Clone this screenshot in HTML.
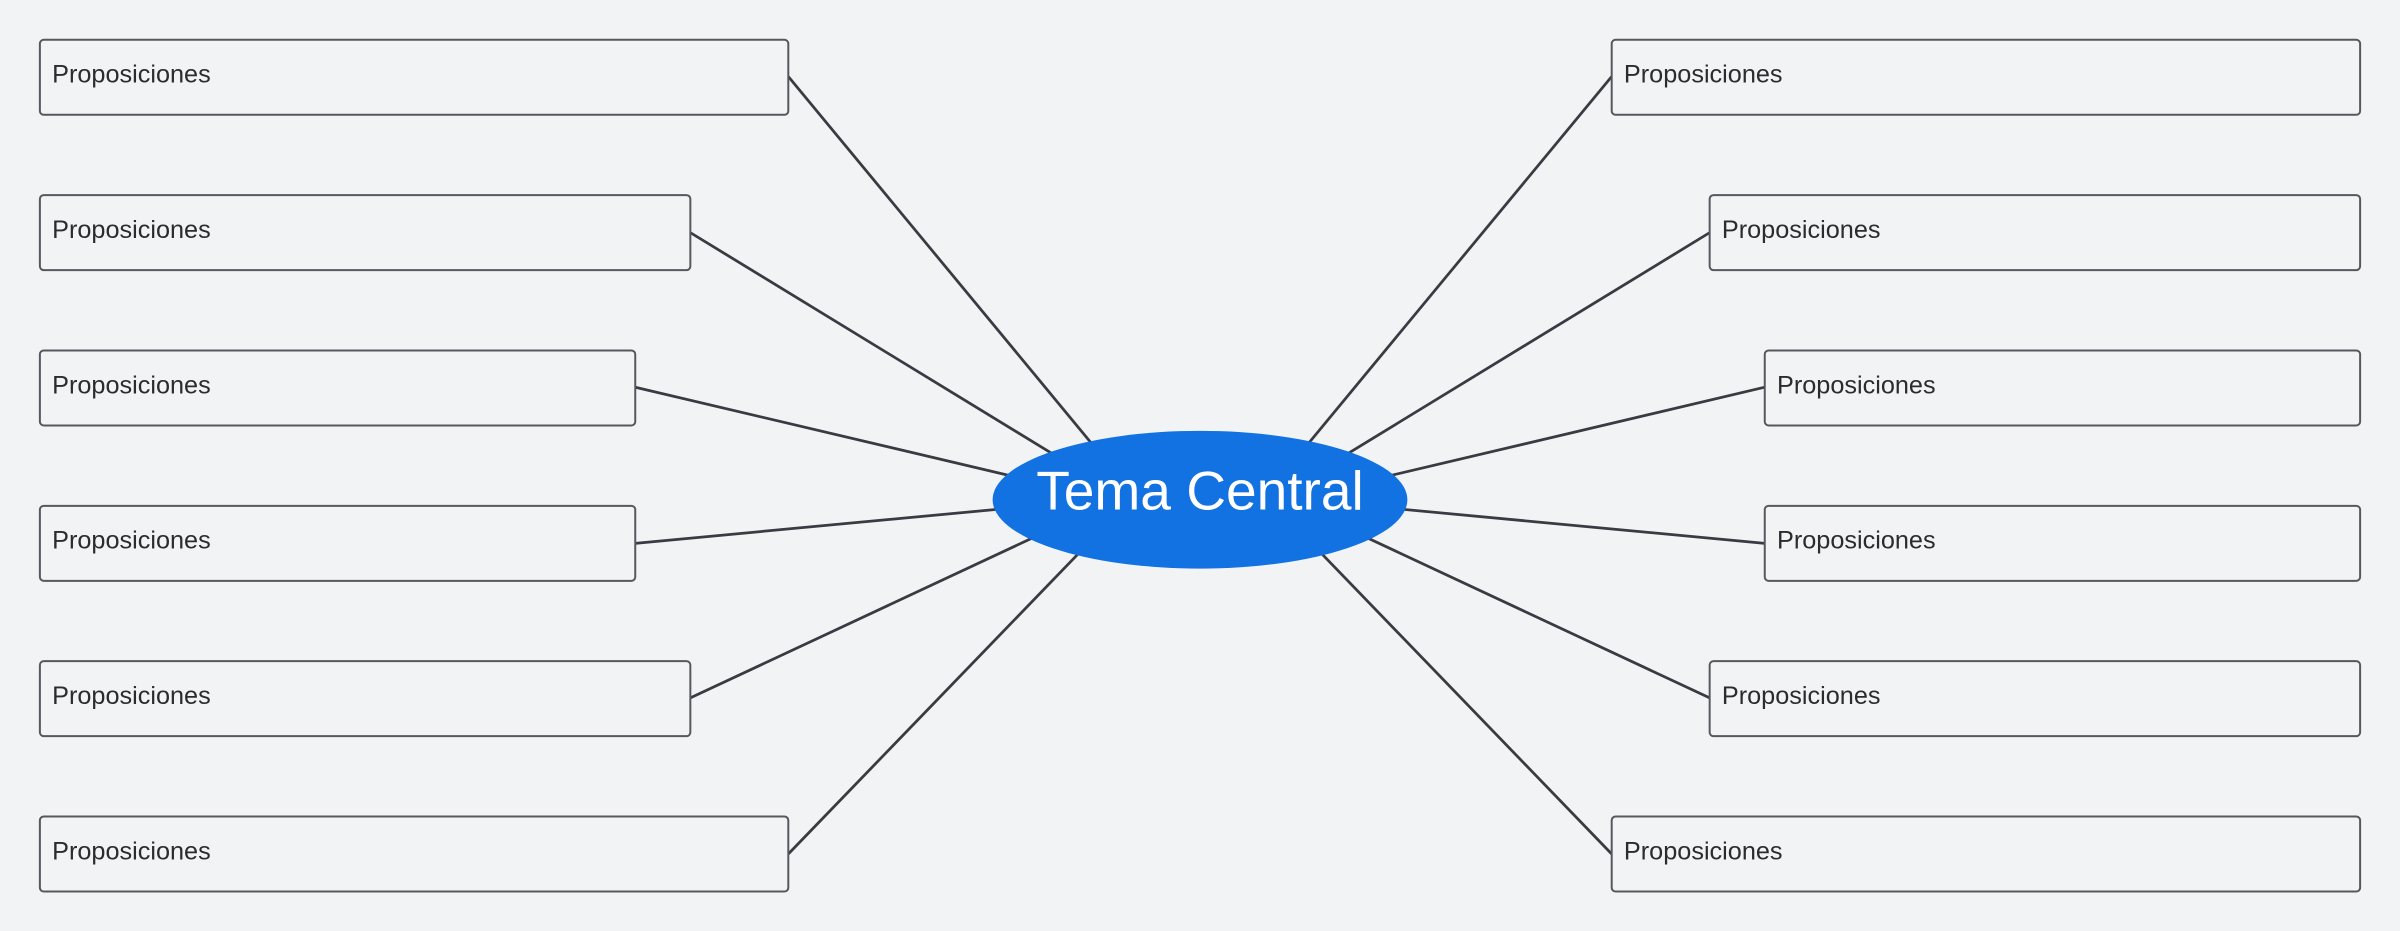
<!DOCTYPE html>
<html><head><meta charset="utf-8"><style>
html,body{margin:0;padding:0;background:#f2f3f5;}
svg{display:block;}
text{font-family:"Liberation Sans",Arial,sans-serif;}
</style></head><body>
<svg width="2400" height="931" viewBox="0 0 1568 608.3" xmlns="http://www.w3.org/2000/svg">
<rect width="1568" height="608.3" fill="#f2f3f5"/>
<g stroke="#383b42" stroke-width="1.8" fill="none">
<line x1="515" y1="50" x2="720" y2="298"/>
<line x1="451" y1="152" x2="695" y2="301"/>
<line x1="415" y1="253" x2="665" y2="312"/>
<line x1="415" y1="355" x2="660" y2="332"/>
<line x1="451" y1="456" x2="682" y2="348"/>
<line x1="515" y1="558" x2="712" y2="354"/>
<line x1="1053" y1="50" x2="848" y2="298"/>
<line x1="1117" y1="152" x2="873" y2="301"/>
<line x1="1153" y1="253" x2="903" y2="312"/>
<line x1="1153" y1="355" x2="908" y2="332"/>
<line x1="1117" y1="456" x2="886" y2="348"/>
<line x1="1053" y1="558" x2="856" y2="354"/>
</g>
<g fill="#f2f3f5" stroke="#55585e" stroke-width="1.3">
<rect x="26" y="26" width="489" height="49" rx="2.5"/>
<rect x="26" y="127.5" width="425" height="49" rx="2.5"/>
<rect x="26" y="229" width="389" height="49" rx="2.5"/>
<rect x="26" y="330.5" width="389" height="49" rx="2.5"/>
<rect x="26" y="432" width="425" height="49" rx="2.5"/>
<rect x="26" y="533.5" width="489" height="49" rx="2.5"/>
<rect x="1053" y="26" width="489" height="49" rx="2.5"/>
<rect x="1117" y="127.5" width="425" height="49" rx="2.5"/>
<rect x="1153" y="229" width="389" height="49" rx="2.5"/>
<rect x="1153" y="330.5" width="389" height="49" rx="2.5"/>
<rect x="1117" y="432" width="425" height="49" rx="2.5"/>
<rect x="1053" y="533.5" width="489" height="49" rx="2.5"/>
</g>
<g fill="#2a2c30" font-size="16.5">
<text x="34" y="54">Proposiciones</text>
<text x="34" y="155.5">Proposiciones</text>
<text x="34" y="257">Proposiciones</text>
<text x="34" y="358.5">Proposiciones</text>
<text x="34" y="460">Proposiciones</text>
<text x="34" y="561.5">Proposiciones</text>
<text x="1061" y="54">Proposiciones</text>
<text x="1125" y="155.5">Proposiciones</text>
<text x="1161" y="257">Proposiciones</text>
<text x="1161" y="358.5">Proposiciones</text>
<text x="1125" y="460">Proposiciones</text>
<text x="1061" y="561.5">Proposiciones</text>
</g>
<ellipse cx="784" cy="326.5" rx="135.5" ry="45" fill="#1272e2"/>
<text x="784" y="333" text-anchor="middle" fill="#ffffff" font-size="36">Tema Central</text>
</svg>
</body></html>
